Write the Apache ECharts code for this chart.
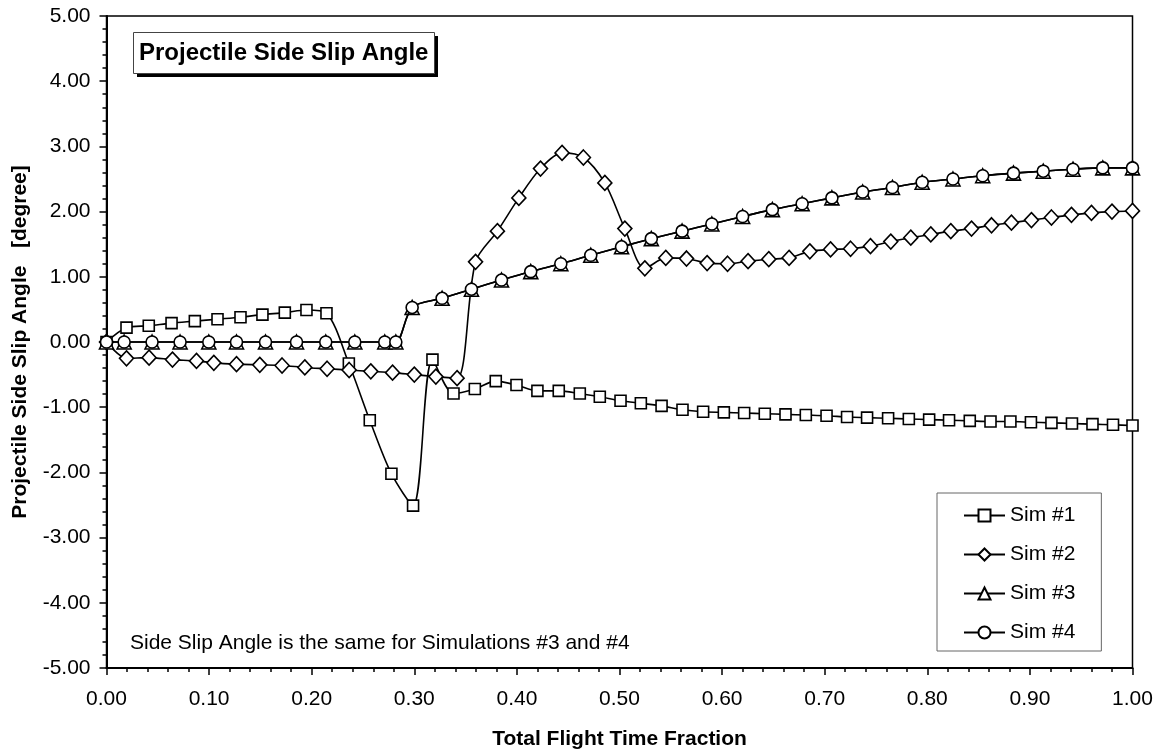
<!DOCTYPE html>
<html>
<head>
<meta charset="utf-8">
<script src="https://cdn.jsdelivr.net/npm/echarts@6/dist/echarts.min.js"></script>
<style>
  html, body { margin: 0; padding: 0; background: #fff; }
  #chart { width: 1160px; height: 755px; }
</style>
</head>
<body>
<div id="chart"></div>
<script>
// Side slip angle histories (degree) against total flight time fraction
const sim1X = [0, 0.0195, 0.0412, 0.0634, 0.0861, 0.1082, 0.1306, 0.152, 0.1738, 0.1949,
  0.2144, 0.2362, 0.2566, 0.2777, 0.2988, 0.3177, 0.3382, 0.359, 0.3794, 0.3996,
  0.42, 0.4408, 0.4613, 0.4808, 0.501, 0.5208, 0.541, 0.5614, 0.5815, 0.6017,
  0.6215, 0.6416, 0.6618, 0.6816, 0.7018, 0.7218, 0.7413, 0.7618, 0.782, 0.8018,
  0.8212, 0.8414, 0.8616, 0.881, 0.901, 0.921, 0.941, 0.961, 0.981, 1.0];
const sim1Y = [0, 0.22, 0.25, 0.29, 0.32, 0.35, 0.38, 0.42, 0.45, 0.49,
  0.44, -0.33, -1.20, -2.02, -2.51, -0.27, -0.79, -0.72, -0.60, -0.66,
  -0.75, -0.75, -0.79, -0.84, -0.90, -0.94, -0.98, -1.04, -1.07, -1.08,
  -1.09, -1.10, -1.11, -1.12, -1.13, -1.15, -1.16, -1.17, -1.18, -1.19,
  -1.20, -1.21, -1.22, -1.22, -1.23, -1.24, -1.25, -1.26, -1.27, -1.28];

const sim2X = [0, 0.0195, 0.0415, 0.0643, 0.0877, 0.1046, 0.1267, 0.1494, 0.1711, 0.1933,
  0.215, 0.2365, 0.2576, 0.2788, 0.30, 0.321, 0.3417, 0.3597, 0.381, 0.4019,
  0.423, 0.444, 0.4648, 0.4857, 0.5052, 0.5247, 0.5451, 0.5653, 0.5854, 0.6053,
  0.6253, 0.6455, 0.6653, 0.6855, 0.7057, 0.7252, 0.7446, 0.7644, 0.7839, 0.8034,
  0.8229, 0.8431, 0.8626, 0.882, 0.9015, 0.921, 0.9405, 0.96, 0.98, 1.0];
const sim2Y = [0, -0.25, -0.24, -0.27, -0.29, -0.32, -0.34, -0.35, -0.36, -0.39,
  -0.41, -0.43, -0.45, -0.47, -0.50, -0.53, -0.555, 1.23, 1.70, 2.21,
  2.66, 2.90, 2.83, 2.44, 1.74, 1.13, 1.29, 1.28, 1.21, 1.20,
  1.24, 1.27, 1.29, 1.39, 1.42, 1.43, 1.47, 1.54, 1.60, 1.65,
  1.70, 1.74, 1.79, 1.83, 1.87, 1.91, 1.95, 1.98, 2.00, 2.01];

// Simulations #3 and #4 share the same time base and the same values
const sim34X = [0, 0.0172, 0.0444, 0.0717, 0.0997, 0.1267, 0.155, 0.1852, 0.2137, 0.242,
  0.2712, 0.282, 0.2979, 0.3271, 0.3557, 0.385, 0.4135, 0.4428, 0.472, 0.502,
  0.531, 0.561, 0.590, 0.620, 0.649, 0.678, 0.707, 0.737, 0.766, 0.795,
  0.825, 0.854, 0.884, 0.913, 0.942, 0.971, 1.0];
const sim3Y = [0, 0, 0, 0, 0, 0, 0, 0, 0, 0,
  0, 0, 0.53, 0.67, 0.81, 0.95, 1.08, 1.20, 1.33, 1.46,
  1.585, 1.70, 1.81, 1.925, 2.03, 2.12, 2.21, 2.30, 2.37, 2.45,
  2.50, 2.55, 2.59, 2.62, 2.65, 2.67, 2.67];
const sim4Y = sim3Y.slice();

const seriesNames = ['Sim #1', 'Sim #2', 'Sim #3', 'Sim #4'];
const xTicks = { min: 0, max: 1, step: 0.1 };
const yTicks = { min: -5, max: 5, step: 1 };

const chartTitle = 'Projectile Side Slip Angle';
const noteText = 'Side Slip Angle is the same for Simulations #3 and #4';

const FONT = "'Liberation Sans', Arial, Helvetica, sans-serif";
const TITLE_SIZE = 24;

function pairs(xs, ys) {
  return xs.map((x, i) => [x, ys[i]]);
}

function textWidth(text, font) {
  const ctx = document.createElement('canvas').getContext('2d');
  ctx.font = font;
  return ctx.measureText(text).width;
}

function lineSeries(name, xs, ys, symbol, size, z) {
  return {
    name: name,
    type: 'line',
    data: pairs(xs, ys),
    smooth: 0.3,
    symbol: symbol,
    symbolSize: size,
    showAllSymbol: true,
    z: z,
    lineStyle: { color: '#000', width: 1.6 },
    itemStyle: { color: '#fff', borderColor: '#000', borderWidth: 1.6 },
    emphasis: { disabled: true },
    animation: false
  };
}

// framed title box with a solid drop shadow
const boxX = 133, boxY = 32, padX = 5, boxH = 41;
const boxW = Math.round(textWidth(chartTitle, 'bold ' + TITLE_SIZE + 'px ' + FONT)) + padX * 2 + 2;

const chart = echarts.init(document.getElementById('chart'), null, { renderer: 'canvas' });

chart.setOption({
  backgroundColor: '#fff',
  animation: false,
  graphic: [
    {
      type: 'rect', z: 8, silent: true,
      shape: { x: boxX + 4, y: boxY + 4, width: boxW, height: boxH },
      style: { fill: '#000' }
    },
    {
      type: 'rect', z: 9, silent: true,
      shape: { x: boxX + 0.5, y: boxY + 0.5, width: boxW, height: boxH },
      style: { fill: '#fff', stroke: '#444', lineWidth: 1 }
    }
  ],
  title: [
    {
      text: chartTitle,
      left: boxX + padX + 1,
      top: boxY + 9,
      padding: 0,
      z: 10,
      textStyle: { fontFamily: FONT, fontSize: TITLE_SIZE, fontWeight: 'bold', color: '#000' }
    },
    {
      text: noteText,
      left: 130,
      top: 633,
      padding: 0,
      textStyle: { fontFamily: FONT, fontSize: 21, fontWeight: 'normal', color: '#000' }
    }
  ],
  legend: {
    orient: 'vertical',
    left: 937,
    top: 493,
    padding: [12, 26, 8, 26],
    itemGap: 18,
    itemWidth: 41,
    itemHeight: 15,
    backgroundColor: '#fff',
    borderColor: '#666',
    borderWidth: 1,
    textStyle: { fontFamily: FONT, fontSize: 21, color: '#000' },
    data: seriesNames
  },
  grid: {
    left: 106.5,
    right: 27.5,
    top: 16,
    bottom: 83,
    show: true,
    borderColor: '#000',
    borderWidth: 1.5,
    backgroundColor: '#fff'
  },
  xAxis: {
    type: 'value',
    min: xTicks.min,
    max: xTicks.max,
    interval: xTicks.step,
    name: 'Total Flight Time Fraction',
    nameLocation: 'middle',
    nameGap: 61,
    nameTextStyle: { fontFamily: FONT, fontSize: 21, fontWeight: 'bold', color: '#000' },
    axisLine: { show: true, onZero: false, lineStyle: { color: '#000', width: 2 } },
    axisTick: { show: true, length: 7, lineStyle: { color: '#000', width: 1.5 } },
    minorTick: { show: true, splitNumber: 5, length: 4, lineStyle: { color: '#000', width: 1.5 } },
    splitLine: { show: false },
    axisLabel: {
      margin: 21,
      fontFamily: FONT,
      fontSize: 21,
      color: '#000',
      formatter: v => v.toFixed(2)
    }
  },
  yAxis: {
    type: 'value',
    min: yTicks.min,
    max: yTicks.max,
    interval: yTicks.step,
    name: 'Projectile Side Slip Angle   [degree]',
    nameLocation: 'middle',
    nameRotate: 90,
    nameGap: 76,
    nameTextStyle: { fontFamily: FONT, fontSize: 21, fontWeight: 'bold', color: '#000' },
    axisLine: { show: true, onZero: false, lineStyle: { color: '#000', width: 2 } },
    axisTick: { show: true, length: 7, lineStyle: { color: '#000', width: 1.5 } },
    minorTick: { show: true, splitNumber: 5, length: 4, lineStyle: { color: '#000', width: 1.5 } },
    splitLine: { show: false },
    axisLabel: {
      margin: 16,
      fontFamily: FONT,
      fontSize: 21,
      color: '#000',
      formatter: v => v.toFixed(2)
    }
  },
  series: [
    lineSeries(seriesNames[0], sim1X, sim1Y, 'rect', 11, 3),
    lineSeries(seriesNames[1], sim2X, sim2Y, 'diamond', [14, 15], 4),
    lineSeries(seriesNames[2], sim34X, sim3Y, 'triangle', 14, 5),
    lineSeries(seriesNames[3], sim34X, sim4Y, 'circle', 12, 6)
  ]
});
</script>
</body>
</html>
